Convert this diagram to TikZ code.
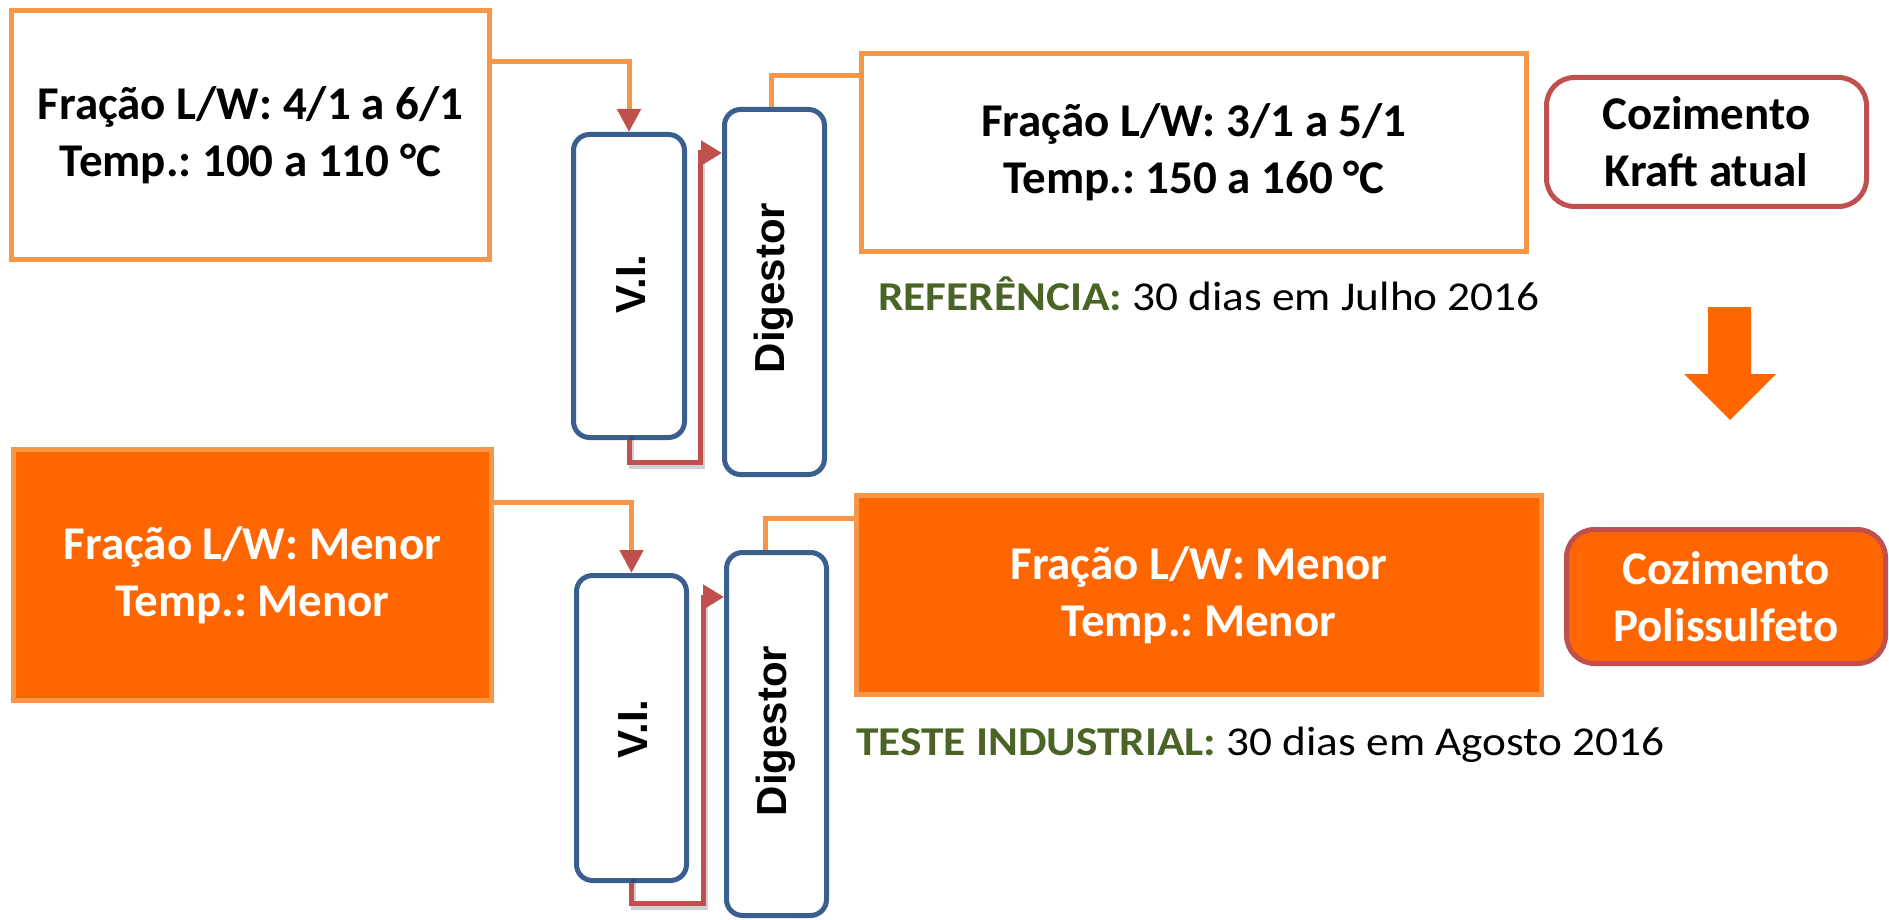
\documentclass[tikz,border=0pt]{standalone}
\usepackage{fontspec}
\setmainfont{Carlito}
\newfontfamily\vfont{Liberation Sans}
\usetikzlibrary{arrows.meta,calc}
\frenchspacing
\definecolor{oborder}{HTML}{F79646}
\definecolor{ofill}{HTML}{FF6600}
\definecolor{bborder}{HTML}{3A5F8F}
\definecolor{rline}{HTML}{C0504D}
\definecolor{gtext}{HTML}{4A6426}
\tikzset{
  bigtext/.style={font=\fontsize{47}{57}\selectfont\bfseries, align=center},
  sqbox/.style={draw=oborder, line width=5pt, inner sep=0pt, bigtext},
  whitebox/.style={sqbox, fill=white, text=black},
  orangebox/.style={sqbox, fill=ofill, text=white},
  vessel/.style={draw=bborder, line width=5pt, rounded corners=16pt, fill=white, inner sep=0pt},
  vtext/.style={rotate=90, inner sep=0pt, font=\vfont\fontsize{42}{50}\selectfont\bfseries},
  cookbox/.style={draw=rline, line width=5pt, rounded corners=28pt, inner sep=0pt, bigtext},
  oline/.style={draw=oborder, line width=5pt},
  rline/.style={draw=rline, line width=5pt},
  shadowline/.style={draw=black, opacity=0.18, line width=5pt},
  redtip/.style={-{Triangle[length=23pt,width=23pt,color=rline]}},
  redtipr/.style={-{Triangle[length=21pt,width=24pt,color=rline]}},
  note/.style={font=\fontsize{41}{48}\selectfont, anchor=base west, inner sep=0pt, xscale=1.105},
}
\begin{document}
\begin{tikzpicture}[x=1pt,y=-1pt]
\useasboundingbox (0,0) rectangle (1889,920);
% top row
\node[whitebox, minimum width=478pt, minimum height=249pt] (tl) at (250.5,135) {Fração L/W: 4/1 a 6/1\\Temp.: 100 a 110 °C};
\node[vessel, minimum width=111pt, minimum height=303pt] (vi1) at (629,286) {};
\node[vtext] (vi1t) at (631,284) {V.I.};
\node[vessel, minimum width=100pt, minimum height=365pt] (dg1) at (774.5,292) {};
\node[vtext] (dg1t) at (774,288) {Digestor};
\node[whitebox, minimum width=665pt, minimum height=198pt] (tm) at (1194,152.5) {Fração L/W: 3/1 a 5/1\\Temp.: 150 a 160 °C};
\node[cookbox, fill=white, text=black, minimum width=320pt, minimum height=129pt] (kr) at (1706.5,142) {Cozimento\\Kraft atual};
\node[note] (ref) at (878,310) {\textcolor{gtext}{\bfseries REFERÊNCIA:} 30 dias em Julho 2016};
% bottom row
\node[orangebox, minimum width=478pt, minimum height=251pt] (bl) at (252.5,575) {Fração L/W: Menor\\Temp.: Menor};
\node[vessel, minimum width=110pt, minimum height=305pt] (vi2) at (631.5,728) {};
\node[vtext] (vi2t) at (633,729) {V.I.};
\node[vessel, minimum width=100pt, minimum height=363pt] (dg2) at (776.5,734) {};
\node[vtext] (dg2t) at (776,731) {Digestor};
\node[orangebox, minimum width=685pt, minimum height=199pt] (bm) at (1199,595) {Fração L/W: Menor\\Temp.: Menor};
\node[cookbox, fill=ofill, text=white, minimum width=319pt, minimum height=134pt] (po) at (1726,596.5) {Cozimento\\Polissulfeto};
\node[note] (tst) at (856,755) {\textcolor{gtext}{\bfseries TESTE INDUSTRIAL:} 30 dias em Agosto 2016};
% big down arrow
\fill[ofill] (1708,307) -- (1751,307) -- (1751,374) -- (1776,374) -- (1730,420) -- (1684,374) -- (1708,374) -- cycle;
% connectors top
\draw[oline, redtip] (tl.east |- 0,62) -| (vi1.north);
\draw[shadowline] ([xshift=2pt,yshift=4pt]vi1.south) -- (631,466) -| (702,160);
\draw[rline, redtipr] (vi1.south) -- (629,462) -| (700,153) -- (dg1.west |- 0,153);
\draw[oline] (dg1.north -| 771,0) |- (tm.west |- 0,76);
% connectors bottom
\draw[oline, redtip] (bl.east |- 0,502) -| (vi2.north);
\draw[shadowline] ([xshift=2pt,yshift=4pt]vi2.south) -- (633.5,907) -| (705,604);
\draw[rline, redtipr] (vi2.south) -- (631.5,903) -| (703,597) -- (dg2.west |- 0,597);
\draw[oline] (dg2.north -| 765,0) |- (bm.west |- 0,518);
\end{tikzpicture}
\end{document}
